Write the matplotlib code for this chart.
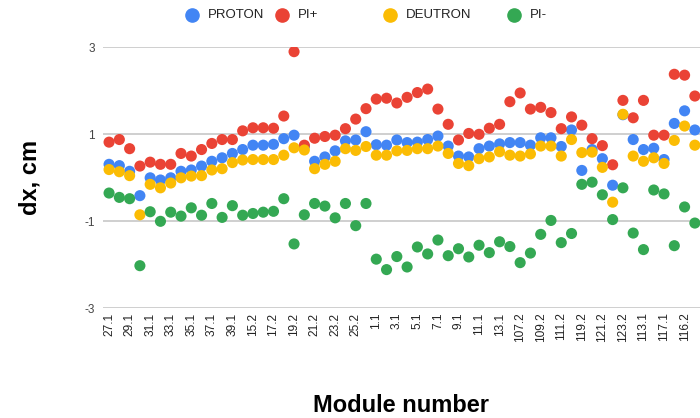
import matplotlib.pyplot as plt
from matplotlib.lines import Line2D
import numpy as np

plt.rcParams['font.family'] = ['Liberation Sans', 'DejaVu Sans']

modules = ['27.1', '28.1', '29.1', '30.1', '31.1', '32.1', '33.1', '34.1', '35.1', '36.1',
           '37.1', '38.1', '39.1', '14.2', '15.2', '16.2', '17.2', '18.2', '19.2', '20.2',
           '21.2', '22.2', '23.2', '24.2', '25.2', '26.2', '1.1', '2.1', '3.1', '4.1',
           '5.1', '6.1', '7.1', '8.1', '9.1', '10.1', '11.1', '12.1', '13.1', '106.2',
           '107.2', '108.2', '109.2', '110.2', '111.2', '118.2', '119.2', '120.2', '121.2', '122.2',
           '123.2', '112.1', '113.1', '115.1', '117.1', '118.1', '116.2', '114.2']

proton = [0.31, 0.28, 0.15, -0.41, 0.0, -0.05, 0.0, 0.15, 0.18, 0.27,
          0.38, 0.46, 0.56, 0.65, 0.75, 0.75, 0.77, 0.90, 0.98, 0.72,
          0.38, 0.48, 0.62, 0.85, 0.87, 1.06, 0.76, 0.75, 0.87, 0.81,
          0.82, 0.88, 0.96, 0.73, 0.50, 0.48, 0.67, 0.73, 0.78, 0.81,
          0.81, 0.75, 0.92, 0.92, 0.72, 1.10, 0.17, 0.65, 0.44, -0.17,
          1.45, 0.88, 0.65, 0.68, 0.42, 1.25, 1.54, 1.10]

pi_plus = [0.82, 0.88, 0.67, 0.27, 0.36, 0.31, 0.31, 0.56, 0.50, 0.65,
           0.79, 0.88, 0.88, 1.08, 1.15, 1.15, 1.14, 1.42, 2.90, 0.75,
           0.91, 0.95, 0.98, 1.13, 1.35, 1.59, 1.81, 1.83, 1.72, 1.85,
           1.96, 2.04, 1.58, 1.23, 0.87, 1.02, 1.00, 1.14, 1.23, 1.75,
           1.95, 1.58, 1.62, 1.50, 1.13, 1.40, 1.21, 0.90, 0.74, 0.30,
           1.78, 1.38, 1.78, 0.98, 0.98, 2.38, 2.36, 1.88]

deutron = [0.19, 0.14, 0.05, -0.85, -0.15, -0.23, -0.12, 0.0, 0.04, 0.05,
           0.18, 0.21, 0.35, 0.41, 0.42, 0.42, 0.42, 0.52, 0.69, 0.64,
           0.21, 0.31, 0.38, 0.67, 0.63, 0.72, 0.52, 0.52, 0.62, 0.63,
           0.67, 0.67, 0.73, 0.56, 0.33, 0.28, 0.44, 0.48, 0.60, 0.52,
           0.50, 0.55, 0.73, 0.73, 0.50, 0.88, 0.58, 0.59, 0.24, -0.56,
           1.46, 0.50, 0.38, 0.46, 0.33, 0.86, 1.19, 0.75]

pi_minus = [-0.35, -0.45, -0.48, -2.02, -0.78, -1.00, -0.79, -0.88, -0.69, -0.86,
            -0.59, -0.91, -0.64, -0.86, -0.82, -0.79, -0.77, -0.48, -1.52, -0.85,
            -0.59, -0.65, -0.92, -0.59, -1.10, -0.59, -1.87, -2.11, -1.81, -2.05,
            -1.59, -1.75, -1.43, -1.79, -1.63, -1.82, -1.55, -1.72, -1.47, -1.58,
            -1.95, -1.73, -1.30, -0.98, -1.49, -1.28, -0.15, -0.10, -0.39, -0.96,
            -0.23, -1.27, -1.65, -0.28, -0.37, -1.56, -0.67, -1.04]

series = [('PROTON', proton, '#4285F4'),
          ('PI+', pi_plus, '#EA4335'),
          ('DEUTRON', deutron, '#FBBC04'),
          ('PI-', pi_minus, '#34A853')]

# legend marker positions (figure px from the left)
legend_x = [192, 282, 390, 514]

W, H = 700, 418
fig = plt.figure(figsize=(7, 4.18), dpi=100)
ax = fig.add_axes([0.147, 0.2624, 0.853, 0.6244])

x = np.arange(len(modules))
for z, (name, vals, col) in enumerate(series):
    ax.scatter(x, vals, s=64, color=col, edgecolors='none', label=name, zorder=3 + z)

ax.set_ylim(-3, 3)
ax.set_xlim(-0.6, 57.5)
ax.set_yticks([-3, -1, 1, 3])
ax.set_yticklabels(['-3', '-1', '1', '3'], fontsize=8.5, color='#444444')
ax.set_xticks(x[::2])
ax.set_xticklabels(modules[::2], rotation=90, fontsize=8.6, color='#222222')
ax.tick_params(length=0, pad=3)
ax.tick_params(axis='y', pad=6)
for s in ax.spines.values():
    s.set_visible(False)
ax.grid(axis='y', color='#cccccc', linewidth=1.3)
ax.set_axisbelow(True)

fig.text(0.043, 0.575, 'dx, cm', rotation=90, fontsize=17, fontweight='bold',
         ha='center', va='center')
fig.text(0.573, 0.03, 'Module number', fontsize=17, fontweight='bold',
         ha='center', va='center')

# legend drawn by hand so the uneven google-style spacing fits
ly = 1 - 15 / H
for lx, (name, vals, col) in zip(legend_x, series):
    fig.add_artist(Line2D([lx / W], [ly], marker='o', markersize=9.5, color=col,
                          linestyle='none', transform=fig.transFigure))
    fig.text((lx + 16) / W, ly, name, fontsize=9.5, color='#222222',
             ha='left', va='center')

fig.savefig('out.png', dpi=100)
